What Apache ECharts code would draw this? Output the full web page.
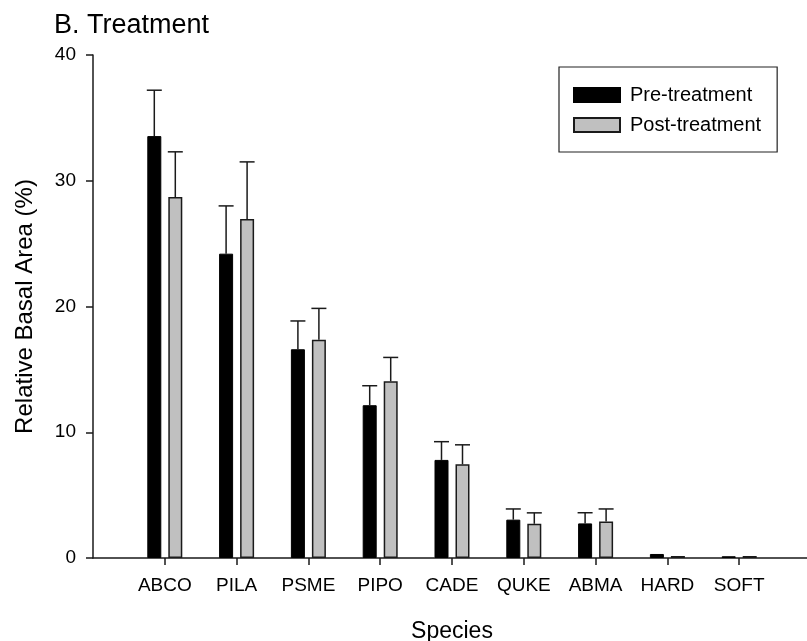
<!DOCTYPE html>
<html>
<head>
<meta charset="utf-8">
<script src="https://cdn.jsdelivr.net/npm/echarts@6/dist/echarts.min.js"></script>
<style>
  html, body { margin: 0; padding: 0; background: #fff; }
  #chart { width: 807px; height: 641px; }
</style>
</head>
<body>
<div id="chart"></div>
<script>
// Relative basal area by species, before and after treatment (mean + SE)
const species = ['ABCO', 'PILA', 'PSME', 'PIPO', 'CADE', 'QUKE', 'ABMA', 'HARD', 'SOFT'];
const preMean  = [33.55, 24.2, 16.6, 12.15, 7.8, 3.05, 2.75, 0.32, 0.14];
const preErr   = [3.65, 3.8, 2.25, 1.55, 1.45, 0.85, 0.85, 0, 0];
const postMean = [28.7, 26.95, 17.35, 14.05, 7.45, 2.72, 2.9, 0.16, 0.16];
const postErr  = [3.6, 4.55, 2.5, 1.9, 1.55, 0.87, 1.0, 0, 0];
const yTicks = [0, 10, 20, 30, 40];

const FONT = 'Liberation Sans, Arial, Helvetica, sans-serif';
const positions = species.map((_, i) => i + 1);

function pairs(vals) { return vals.map((v, i) => [positions[i], v]); }
function errData(means, errs) { return means.map((m, i) => [positions[i], m, m + errs[i], errs[i]]); }

// Upward-only error bar with a cap, shifted sideways to sit on its bar
function errorBar(offset) {
  return function (params, api) {
    if (api.value(3) <= 0) return null;
    const base = api.coord([api.value(0), api.value(1)]);
    const top = api.coord([api.value(0), api.value(2)]);
    const x = base[0] + offset;
    const half = 7.5;
    const style = { stroke: '#1a1a1a', lineWidth: 1.5 };
    return {
      type: 'group',
      children: [
        { type: 'line', shape: { x1: x, y1: base[1], x2: x, y2: top[1] }, style },
        { type: 'line', shape: { x1: x - half, y1: top[1], x2: x + half, y2: top[1] }, style }
      ]
    };
  };
}

const chart = echarts.init(document.getElementById('chart'));
chart.setOption({
  animation: false,
  backgroundColor: '#fff',
  title: {
    text: 'B. Treatment',
    left: 49, top: 7,
    textStyle: { fontFamily: FONT, fontSize: 27, fontWeight: 'normal', color: '#000' }
  },
  legend: {
    data: ['Pre-treatment', 'Post-treatment'],
    orient: 'vertical',
    left: 559, top: 67,
    padding: [18, 16, 17, 14],
    itemGap: 10,
    itemWidth: 46, itemHeight: 14,
    icon: 'rect',
    borderColor: '#222', borderWidth: 1.2,
    textStyle: { fontFamily: FONT, fontSize: 20, color: '#000', padding: [0, 0, 0, 5] }
  },
  grid: { left: 93, top: 55, width: 718, height: 503, containLabel: false, outerBoundsMode: 'none' },
  xAxis: {
    type: 'value',
    min: 0, max: 10, interval: 1,
    name: 'Species',
    nameLocation: 'middle',
    nameGap: 62,
    nameTextStyle: { fontFamily: FONT, fontSize: 23, color: '#000' },
    splitLine: { show: false },
    axisLine: { lineStyle: { color: '#1a1a1a', width: 1.5 } },
    axisTick: { customValues: positions, length: 7, lineStyle: { color: '#1a1a1a', width: 1.5 } },
    axisLabel: {
      customValues: positions,
      formatter: v => species[Math.round(v) - 1] || '',
      margin: 18,
      fontFamily: FONT, fontSize: 19, color: '#000'
    }
  },
  yAxis: {
    type: 'value',
    min: 0, max: 40, interval: 10,
    name: 'Relative Basal Area (%)',
    nameLocation: 'middle',
    nameGap: 56,
    nameTextStyle: { fontFamily: FONT, fontSize: 24, color: '#000' },
    splitLine: { show: false },
    axisLine: { show: true, lineStyle: { color: '#1a1a1a', width: 1.5 } },
    axisTick: { show: true, length: 7, lineStyle: { color: '#1a1a1a', width: 1.5 } },
    axisLabel: {
      customValues: yTicks,
      margin: 17,
      fontFamily: FONT, fontSize: 19, color: '#000'
    }
  },
  series: [
    {
      name: 'Pre-treatment',
      type: 'bar',
      data: pairs(preMean),
      barWidth: 14,
      barGap: '50%',
      itemStyle: { color: '#000', borderColor: '#000', borderWidth: 1 },
      z: 2
    },
    {
      name: 'Post-treatment',
      type: 'bar',
      data: pairs(postMean),
      barWidth: 14,
      barGap: '50%',
      itemStyle: { color: '#c0c0c0', borderColor: '#1a1a1a', borderWidth: 1.5 },
      z: 2
    },
    {
      type: 'custom',
      renderItem: errorBar(-10.5),
      data: errData(preMean, preErr),
      encode: { x: 0, y: [1, 2] },
      silent: true, z: 3
    },
    {
      type: 'custom',
      renderItem: errorBar(10.5),
      data: errData(postMean, postErr),
      encode: { x: 0, y: [1, 2] },
      silent: true, z: 3
    }
  ]
});
</script>
</body>
</html>
